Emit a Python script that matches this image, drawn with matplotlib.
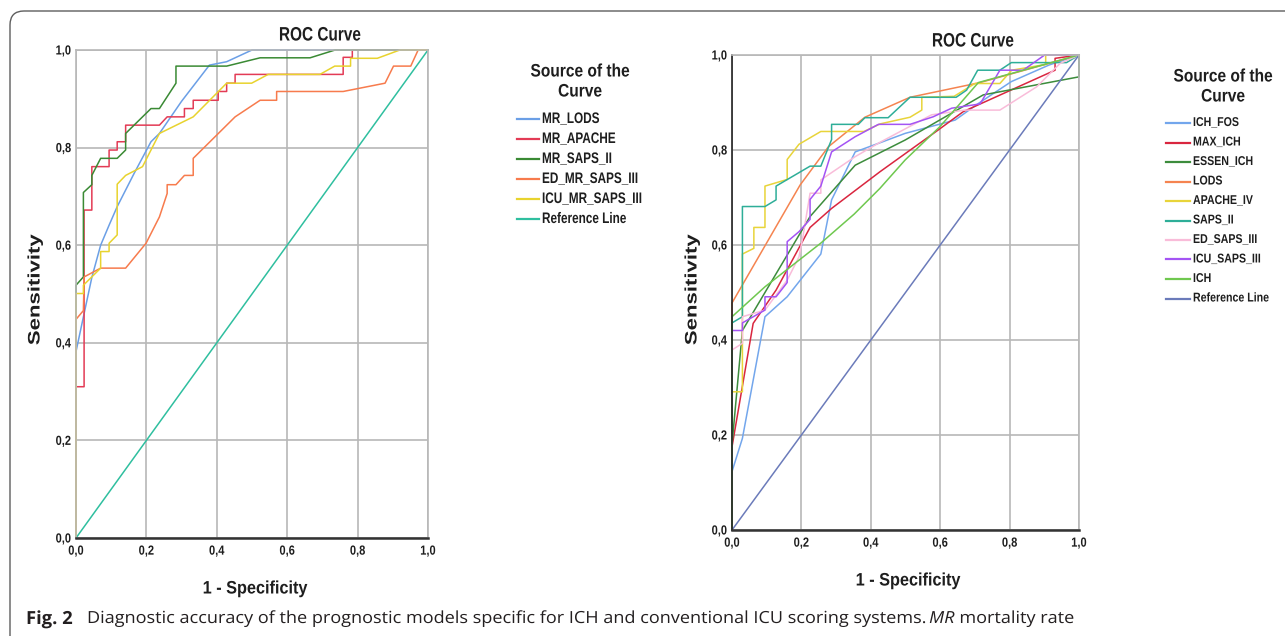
import matplotlib
matplotlib.use("Agg")
import matplotlib.pyplot as plt
from matplotlib.lines import Line2D
from matplotlib.patches import FancyBboxPatch
from matplotlib.patheffects import AbstractPathEffect
from matplotlib.transforms import Affine2D

W, H = 1285, 636

tick_vals = [0, 0.2, 0.4, 0.6, 0.8, 1.0]
tick_labels = ["0,0", "0,2", "0,4", "0,6", "0,8", "1,0"]

# ---- left panel: mortality rate models ----
lods_x = [0, 0, 0.021, 0.045, 0.070, 0.094, 0.117, 0.165, 0.213, 0.237, 0.30, 0.379, 0.428, 0.50, 1.0]
lods_y = [0, 0.382, 0.453, 0.534, 0.600, 0.641, 0.679, 0.747, 0.812, 0.829, 0.895, 0.969, 0.976, 1.0, 1.0]

apache_x = [0, 0, 0.023, 0.023, 0.045, 0.045, 0.094, 0.094, 0.117, 0.117, 0.141, 0.141, 0.237, 0.259,
            0.308, 0.308, 0.333, 0.333, 0.404, 0.404, 0.428, 0.428, 0.452, 0.452, 0.759, 0.759, 0.785, 0.785, 1.0]
apache_y = [0, 0.31, 0.31, 0.672, 0.672, 0.761, 0.761, 0.795, 0.795, 0.812, 0.812, 0.846, 0.846, 0.863,
            0.863, 0.880, 0.880, 0.897, 0.897, 0.915, 0.915, 0.932, 0.932, 0.950, 0.950, 0.985, 0.985, 1.0, 1.0]

saps2_x = [0, 0, 0.021, 0.021, 0.045, 0.045, 0.070, 0.117, 0.141, 0.141, 0.213, 0.237, 0.284, 0.284,
           0.428, 0.523, 0.665, 0.736, 1.0]
saps2_y = [0, 0.518, 0.535, 0.708, 0.724, 0.743, 0.778, 0.778, 0.795, 0.829, 0.880, 0.880, 0.932, 0.967,
           0.967, 0.984, 0.984, 1.0, 1.0]

ed_saps3_x = [0, 0, 0.021, 0.023, 0.070, 0.141, 0.199, 0.237, 0.259, 0.259, 0.284, 0.308, 0.333, 0.333,
              0.452, 0.523, 0.570, 0.570, 0.759, 0.878, 0.902, 0.951, 0.972, 1.0]
ed_saps3_y = [0, 0.448, 0.466, 0.535, 0.553, 0.553, 0.604, 0.658, 0.706, 0.724, 0.724, 0.743, 0.743, 0.778,
              0.863, 0.897, 0.897, 0.915, 0.915, 0.932, 0.967, 0.967, 1.0, 1.0]

icu_saps3_x = [0, 0, 0.021, 0.021, 0.070, 0.070, 0.094, 0.094, 0.117, 0.117, 0.141, 0.189, 0.237, 0.333,
               0.428, 0.499, 0.546, 0.693, 0.735, 0.780, 0.780, 0.856, 0.920, 1.0]
icu_saps3_y = [0, 0.501, 0.501, 0.518, 0.553, 0.587, 0.587, 0.604, 0.621, 0.725, 0.743, 0.761, 0.829, 0.863,
               0.932, 0.932, 0.950, 0.950, 0.967, 0.967, 0.983, 0.983, 1.0, 1.0]

left_names = ["MR_LODS", "MR_APACHE", "MR_SAPS_II", "ED_MR_SAPS_III", "ICU_MR_SAPS_III", "Reference Line"]
left_colors = ["#6b9fe6", "#e33b55", "#3a8a34", "#f77b4d", "#e8d32e", "#2fbf9f"]

# ---- right panel: ICH specific + ICU scores ----
fos_x = [0, 0, 0.030, 0.095, 0.159, 0.256, 0.287, 0.355, 0.422, 0.499, 0.643, 0.71, 0.805, 0.914, 1.0]
fos_y = [0, 0.123, 0.193, 0.449, 0.491, 0.581, 0.695, 0.796, 0.814, 0.835, 0.863, 0.898, 0.944, 0.979, 1.0]

max_ich_x = [0, 0, 0.061, 0.127, 0.225, 0.287, 0.426, 0.594, 0.667, 0.931, 0.931, 1.0]
max_ich_y = [0, 0.175, 0.435, 0.505, 0.637, 0.677, 0.754, 0.842, 0.881, 0.968, 0.993, 1.0]

essen_x = [0, 0, 0.030, 0.095, 0.225, 0.355, 0.499, 0.724, 1.0, 1.0]
essen_y = [0, 0.18, 0.42, 0.50, 0.66, 0.768, 0.821, 0.916, 0.954, 1.0]

lods2_x = [0, 0, 0.196, 0.278, 0.383, 0.513, 0.715, 1.0]
lods2_y = [0, 0.478, 0.726, 0.807, 0.869, 0.911, 0.942, 1.0]

apache4_x = [0, 0, 0.030, 0.030, 0.063, 0.063, 0.095, 0.095, 0.159, 0.159, 0.193, 0.256, 0.380, 0.427,
             0.513, 0.547, 0.547, 0.64, 0.70, 0.772, 0.806, 0.904, 0.904, 1.0]
apache4_y = [0, 0.291, 0.291, 0.581, 0.593, 0.637, 0.637, 0.724, 0.738, 0.780, 0.812, 0.839, 0.839, 0.855,
             0.869, 0.884, 0.911, 0.913, 0.940, 0.940, 0.968, 0.980, 1.0, 1.0]

saps_x = [0, 0, 0.030, 0.030, 0.095, 0.127, 0.127, 0.225, 0.256, 0.287, 0.287, 0.364, 0.383, 0.450,
          0.513, 0.646, 0.676, 0.708, 0.772, 0.805, 0.964, 1.0]
saps_y = [0, 0.436, 0.449, 0.681, 0.681, 0.695, 0.724, 0.766, 0.766, 0.822, 0.854, 0.854, 0.868, 0.868,
          0.911, 0.911, 0.926, 0.968, 0.968, 0.984, 0.984, 1.0]

ed3_x = [0, 0, 0.030, 0.030, 0.095, 0.159, 0.193, 0.205, 0.225, 0.256, 0.256, 0.355, 0.426, 0.575,
         0.671, 0.772, 0.878, 0.945, 1.0]
ed3_y = [0, 0.379, 0.393, 0.449, 0.463, 0.526, 0.575, 0.62, 0.709, 0.709, 0.737, 0.786, 0.816, 0.874,
         0.884, 0.884, 0.933, 0.982, 1.0]

icu3_x = [0, 0, 0.030, 0.030, 0.095, 0.095, 0.127, 0.159, 0.159, 0.193, 0.225, 0.225, 0.256, 0.287,
          0.355, 0.422, 0.513, 0.580, 0.633, 0.715, 0.772, 0.839, 0.901, 1.0]
icu3_y = [0, 0.420, 0.420, 0.436, 0.463, 0.491, 0.491, 0.521, 0.607, 0.628, 0.654, 0.696, 0.724, 0.796,
          0.828, 0.854, 0.854, 0.870, 0.888, 0.897, 0.968, 0.968, 1.0, 1.0]

ich_x = [0, 0, 0.095, 0.256, 0.352, 0.426, 0.499, 0.599, 0.71, 1.0]
ich_y = [0, 0.449, 0.512, 0.604, 0.665, 0.719, 0.779, 0.849, 0.942, 1.0]

right_names = ["ICH_FOS", "MAX_ICH", "ESSEN_ICH", "LODS", "APACHE_IV", "SAPS_II",
               "ED_SAPS_III", "ICU_SAPS_III", "ICH", "Reference Line"]
right_colors = ["#73a6ec", "#d9263f", "#3c8c3c", "#f58450", "#e8d43a", "#2eae98",
                "#f9bcd9", "#a454f4", "#6fc84f", "#6b7bba"]

ref_x = [0, 1]
ref_y = [0, 1]

SANS = ["Liberation Sans", "DejaVu Sans"]
GRID = "#b8b8b8"
INK = "#1e1e1e"


class Squeeze(AbstractPathEffect):
    # scales glyphs along the text direction (SPSS output uses a narrow font)
    def __init__(self, sx, anchor="center"):
        super().__init__()
        self.sx = sx
        self.anchor = anchor

    def draw_path(self, renderer, gc, tpath, affine, rgbFace=None):
        xmax = tpath.vertices[:, 0].max() if len(tpath.vertices) else 0
        x0 = {"left": 0, "center": xmax / 2, "right": xmax}[self.anchor]
        t = Affine2D().translate(-x0, 0).scale(self.sx, 1).translate(x0, 0)
        renderer.draw_path(gc, tpath, t + affine, rgbFace)


def fx(x):
    return x / W


def fy(y):
    return 1 - y / H


fig = plt.figure(figsize=(W / 100, H / 100), dpi=100)

# rounded frame of the figure box (runs off the right/bottom edge)
frame = FancyBboxPatch((0.10, -0.5), 14, 6.25 + 0.5, boxstyle="round,pad=0,rounding_size=0.14",
                       transform=fig.dpi_scale_trans, fill=False, ec="#5e5e5e", lw=1.0)
fig.add_artist(frame)


def setup(ax, axis_color):
    ax.set_xlim(0, 1)
    ax.set_ylim(0, 1)
    ax.set_xticks(tick_vals)
    ax.set_yticks(tick_vals)
    ax.set_xticklabels(tick_labels, family=SANS, weight="bold", size=9.5, color=INK)
    ax.set_yticklabels(tick_labels, family=SANS, weight="bold", size=9.5, color=INK)
    for lbl in ax.get_xticklabels():
        lbl.set_path_effects([Squeeze(0.84, "center")])
    for lbl in ax.get_yticklabels():
        lbl.set_path_effects([Squeeze(0.84, "right")])
    ax.grid(True, color=GRID, lw=1.2)
    ax.set_axisbelow(True)
    ax.tick_params(length=0)
    ax.tick_params(axis="x", pad=5.5)
    ax.tick_params(axis="y", pad=3.5)
    for s in ["top", "right"]:
        ax.spines[s].set_color(GRID)
        ax.spines[s].set_linewidth(1.2)
    ax.spines["left"].set_color(axis_color)
    ax.spines["left"].set_linewidth(1.2)
    ax.spines["bottom"].set_color("#333333")
    ax.spines["bottom"].set_linewidth(1.8)


ax1 = fig.add_axes([fx(76), fy(538), fx(428 - 76), (538 - 50) / H])
setup(ax1, GRID)
left_series = [(lods_x, lods_y), (apache_x, apache_y), (saps2_x, saps2_y),
               (ed_saps3_x, ed_saps3_y), (icu_saps3_x, icu_saps3_y), (ref_x, ref_y)]
for (xs, ys), c in zip(left_series, left_colors):
    ax1.plot(xs, ys, color=c, lw=1.1, clip_on=False)

ax2 = fig.add_axes([fx(732), fy(530), fx(1079 - 732), (530 - 55) / H])
setup(ax2, "#222222")
right_series = [(fos_x, fos_y), (max_ich_x, max_ich_y), (essen_x, essen_y), (lods2_x, lods2_y),
                (apache4_x, apache4_y), (saps_x, saps_y), (ed3_x, ed3_y), (icu3_x, icu3_y),
                (ich_x, ich_y), (ref_x, ref_y)]
for (xs, ys), c in zip(right_series, right_colors):
    ax2.plot(xs, ys, color=c, lw=1.1, clip_on=False)

# titles and axis labels
title_kw = dict(family=SANS, weight="bold", size=14, color=INK, ha="center", va="center",
                path_effects=[Squeeze(0.79)])
fig.text(fx(320), fy(36), "ROC Curve", **title_kw)
fig.text(fx(973), fy(42), "ROC Curve", **title_kw)
xl_kw = dict(family=SANS, weight="bold", size=13, color=INK, ha="center", va="center",
             path_effects=[Squeeze(0.9)])
fig.text(fx(255), fy(589), "1 - Specificity", **xl_kw)
fig.text(fx(908), fy(581), "1 - Specificity", **xl_kw)
yl_kw = dict(family=SANS, weight="bold", size=12, color=INK, ha="center", va="center",
             rotation=90, path_effects=[Squeeze(1.33)])
fig.text(fx(35), fy(290), "Sensitivity", **yl_kw)
fig.text(fx(692), fy(290), "Sensitivity", **yl_kw)


def legend(cx, ty, x0, x1, y0, step, names, colors, size, sx):
    for k, line in enumerate(["Source of the", "Curve"]):
        fig.text(fx(cx), fy(ty + 20 * k), line, family=SANS, weight="bold", size=13,
                 color=INK, ha="center", va="center", path_effects=[Squeeze(0.86)])
    for i, (n, c) in enumerate(zip(names, colors)):
        y = y0 + step * i
        fig.add_artist(Line2D([fx(x0), fx(x1)], [fy(y), fy(y)], color=c, lw=1.6,
                              transform=fig.transFigure))
        fig.text(fx(x1 + 3), fy(y), n, family=SANS, weight="bold", size=size,
                 color=INK, ha="left", va="center", path_effects=[Squeeze(sx, "left")])


legend(580, 72, 517, 539, 119, 20, left_names, left_colors, 11, 0.77)
legend(1223, 77, 1166, 1190, 123, 19.5, right_names, right_colors, 9.2, 0.83)

# caption, built from pieces placed one after another
fig.canvas.draw()
r = fig.canvas.get_renderer()
cap_font = ["Open Sans", "DejaVu Sans"]
pieces = [("Fig. 2", "bold", "normal", 13, 1.02, 26, 0),
          ("Diagnostic accuracy of the prognostic models specific for ICH and conventional ICU scoring systems.",
           "normal", "normal", 12, 1.085, 87, 7),
          ("MR", "normal", "italic", 12, 1.085, None, 5),
          ("mortality rate", "normal", "normal", 12, 1.085, None, 0)]
x = 26
for txt, wt, st, sz, sx, start, gap in pieces:
    if start is not None:
        x = start
    t = fig.text(fx(x), fy(619), txt, family=cap_font, weight=wt, style=st, size=sz,
                 color="#231f20", ha="left", va="center", path_effects=[Squeeze(sx, "left")])
    bb = t.get_window_extent(r)
    x = bb.x0 + (bb.x1 - bb.x0) * sx + gap

fig.savefig("out.png", dpi=100)
